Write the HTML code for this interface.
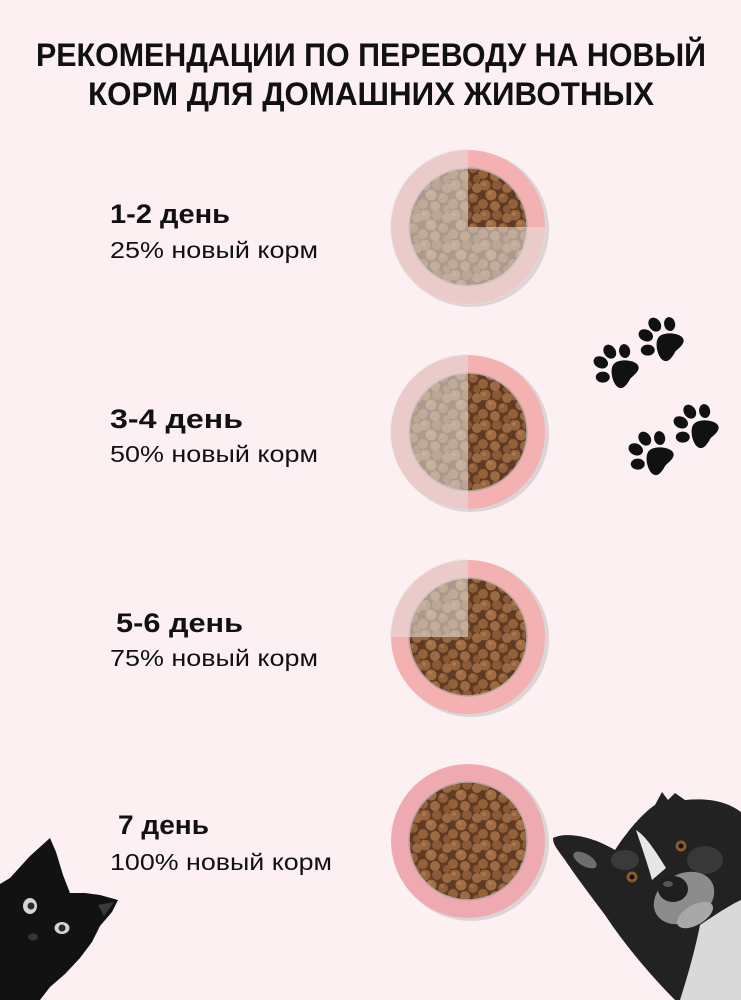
<!DOCTYPE html>
<html>
<head>
<meta charset="utf-8">
<style>
html,body{margin:0;padding:0;background:#fcf0f3;}
svg{display:block;}
</style>
</head>
<body>
<svg width="741" height="1000" viewBox="0 0 741 1000" xmlns="http://www.w3.org/2000/svg">
<defs>
  <pattern id="kib" width="30" height="30" patternUnits="userSpaceOnUse">
    <rect width="30" height="30" fill="#5e3b22"/>
    <circle cx="5" cy="5" r="5.5" fill="#95643d"/>
    <circle cx="17" cy="5" r="5" fill="#8b5a36"/>
    <circle cx="27" cy="8" r="5" fill="#9a6842"/>
    <circle cx="-3" cy="8" r="5" fill="#9a6842"/>
    <circle cx="11" cy="15" r="5.5" fill="#a06e45"/>
    <circle cx="23" cy="18" r="5" fill="#8f5d37"/>
    <circle cx="3" cy="24" r="5" fill="#946239"/>
    <circle cx="33" cy="24" r="5" fill="#946239"/>
    <circle cx="15" cy="26" r="5" fill="#9c6a43"/>
    <circle cx="27" cy="29" r="4" fill="#8a5934"/>
    <circle cx="27" cy="-1" r="4" fill="#8a5934"/>
    <circle cx="15" cy="-4" r="5" fill="#9c6a43"/>
    <circle cx="4" cy="4" r="2" fill="#a97650"/>
    <circle cx="10" cy="13" r="2" fill="#ad7a50"/>
    <circle cx="22" cy="16" r="2" fill="#a06e45"/>
  </pattern>
  <clipPath id="c1"><circle cx="468" cy="227" r="78"/></clipPath>
  <clipPath id="c2"><circle cx="468" cy="432" r="78"/></clipPath>
  <clipPath id="c3"><circle cx="468" cy="637" r="78"/></clipPath>
  <g id="paw">
    <path d="M0,-3 C7,-3 15,8 15,14 C15,20 10,21 0,19 C-10,21 -15,20 -15,14 C-15,8 -7,-3 0,-3 Z" fill="#111"/>
    <ellipse cx="-17" cy="-3" rx="5.5" ry="7" transform="rotate(-40 -17 -3)" fill="#111"/>
    <ellipse cx="-7" cy="-14" rx="5.8" ry="7.5" transform="rotate(-15 -7 -14)" fill="#111"/>
    <ellipse cx="7" cy="-14" rx="5.8" ry="7.5" transform="rotate(15 7 -14)" fill="#111"/>
    <ellipse cx="17" cy="-3" rx="5.5" ry="7" transform="rotate(40 17 -3)" fill="#111"/>
  </g>
</defs>

<rect width="741" height="1000" fill="#fcf0f3"/>

<!-- Title -->
<g font-family="'Liberation Sans', 'Noto Sans CJK SC', sans-serif" font-weight="bold" fill="#111" font-size="32">
  <text x="36" y="66" textLength="670" lengthAdjust="spacingAndGlyphs">РЕКОМЕНДАЦИИ ПО ПЕРЕВОДУ НА НОВЫЙ</text>
  <text x="88" y="105" textLength="566" lengthAdjust="spacingAndGlyphs">КОРМ ДЛЯ ДОМАШНИХ ЖИВОТНЫХ</text>
</g>

<!-- Labels -->
<g font-family="'Liberation Sans', 'Noto Sans CJK SC', sans-serif" fill="#111">
  <text x="110" y="223" font-size="27" font-weight="bold" textLength="120" lengthAdjust="spacingAndGlyphs">1-2 день</text>
  <text x="110" y="258" font-size="23" textLength="208" lengthAdjust="spacingAndGlyphs">25% новый корм</text>

  <text x="110" y="428" font-size="27" font-weight="bold" textLength="133" lengthAdjust="spacingAndGlyphs">3-4 день</text>
  <text x="110" y="462" font-size="23" textLength="208" lengthAdjust="spacingAndGlyphs">50% новый корм</text>

  <text x="116" y="632" font-size="27" font-weight="bold" textLength="127" lengthAdjust="spacingAndGlyphs">5-6 день</text>
  <text x="110" y="666" font-size="23" textLength="208" lengthAdjust="spacingAndGlyphs">75% новый корм</text>

  <text x="118" y="834" font-size="27" font-weight="bold" textLength="91" lengthAdjust="spacingAndGlyphs">7 день</text>
  <text x="110" y="870" font-size="23" textLength="222" lengthAdjust="spacingAndGlyphs">100% новый корм</text>
</g>

<!-- Bowl 1 -->
<circle cx="471" cy="229" r="78" fill="#dcd4d5"/>
<circle cx="468" cy="227" r="77" fill="#f3b1b1"/>
<circle cx="468" cy="227" r="59" fill="url(#kib)" stroke="#b8a5a5" stroke-width="1.5"/>
<g clip-path="url(#c1)" fill="rgb(228,222,221)" fill-opacity="0.58">
  <rect x="388" y="147" width="80" height="160"/>
  <rect x="468" y="227" width="80" height="80"/>
</g>

<!-- Bowl 2 -->
<circle cx="471" cy="434" r="78" fill="#dcd4d5"/>
<circle cx="468" cy="432" r="77" fill="#f3b1b1"/>
<circle cx="468" cy="432" r="59" fill="url(#kib)" stroke="#b8a5a5" stroke-width="1.5"/>
<g clip-path="url(#c2)" fill="rgb(228,222,221)" fill-opacity="0.58">
  <rect x="388" y="352" width="80" height="160"/>
</g>

<!-- Bowl 3 -->
<circle cx="471" cy="639" r="78" fill="#dcd4d5"/>
<circle cx="468" cy="637" r="77" fill="#f3b1b1"/>
<circle cx="468" cy="637" r="59" fill="url(#kib)" stroke="#b8a5a5" stroke-width="1.5"/>
<g clip-path="url(#c3)" fill="rgb(228,222,221)" fill-opacity="0.58">
  <rect x="388" y="557" width="80" height="80"/>
</g>

<!-- Bowl 4 -->
<circle cx="471" cy="843" r="78" fill="#dcd4d5"/>
<circle cx="468" cy="841" r="77" fill="#efaab1"/>
<circle cx="468" cy="841" r="59" fill="url(#kib)" stroke="#b8a5a5" stroke-width="1.5"/>

<!-- Paws -->
<use href="#paw" transform="translate(616,366) rotate(-50)"/>
<use href="#paw" transform="translate(661,339) rotate(-50)"/>
<use href="#paw" transform="translate(696,426) rotate(-50)"/>
<use href="#paw" transform="translate(651,453) rotate(-50)"/>

<!-- Cat -->
<path d="M0,884 L10,878 L30,856 L50,838 L56,852 L63,875 L70,893 L85,893 L100,895 L118,900 L112,912 L100,926 L92,942 L80,958 L65,974 L50,987 L40,1000 L0,1000 Z" fill="#121212"/>
<path d="M98,905 L114,902 L104,916 Z" fill="#3a3a3a"/>
<ellipse cx="30" cy="906" rx="7" ry="8" fill="#d4d4d4"/>
<circle cx="31" cy="906" r="3.5" fill="#2a2a2a"/>
<ellipse cx="62" cy="928" rx="7.5" ry="6" fill="#d4d4d4"/>
<circle cx="62" cy="928" r="3.5" fill="#2a2a2a"/>
<ellipse cx="33" cy="937" rx="5" ry="3.5" fill="#3c3333"/>

<!-- Dog -->
<path d="M553,838 C565,832 590,835 615,850 C625,835 640,815 655,805 L662,792 L668,800 L675,793 L685,800 C705,798 725,800 741,812 L741,1000 L675,1000 C650,975 625,945 605,915 C590,895 575,875 565,860 C558,850 553,845 553,838 Z" fill="#222"/>
<ellipse cx="585" cy="860" rx="13" ry="6" transform="rotate(30 585 860)" fill="#6e6e6e"/>
<ellipse cx="625" cy="860" rx="14" ry="10" fill="#3a3a3a"/>
<ellipse cx="705" cy="860" rx="18" ry="14" fill="#383838"/>
<path d="M700,925 C715,915 730,905 741,900 L741,1000 L680,1000 C688,975 695,950 700,925 Z" fill="#d9d9d9"/>
<ellipse cx="684" cy="898" rx="32" ry="24" transform="rotate(-30 684 898)" fill="#8c8c8c"/>
<ellipse cx="695" cy="915" rx="20" ry="10" transform="rotate(-30 695 915)" fill="#a8a8a8"/>
<path d="M636,830 C646,836 656,852 666,868 L652,880 C648,865 642,848 636,830 Z" fill="#e6e6e6"/>
<ellipse cx="673" cy="889" rx="15" ry="13" fill="#1e1e1e"/>
<ellipse cx="668" cy="884" rx="5" ry="3" fill="#555"/>
<circle cx="632" cy="877" r="5.5" fill="#8a5a2a"/>
<circle cx="632" cy="877" r="2.5" fill="#111"/>
<circle cx="681" cy="846" r="5.5" fill="#8a5a2a"/>
<circle cx="681" cy="846" r="2.5" fill="#111"/>
</svg>
</body>
</html>
